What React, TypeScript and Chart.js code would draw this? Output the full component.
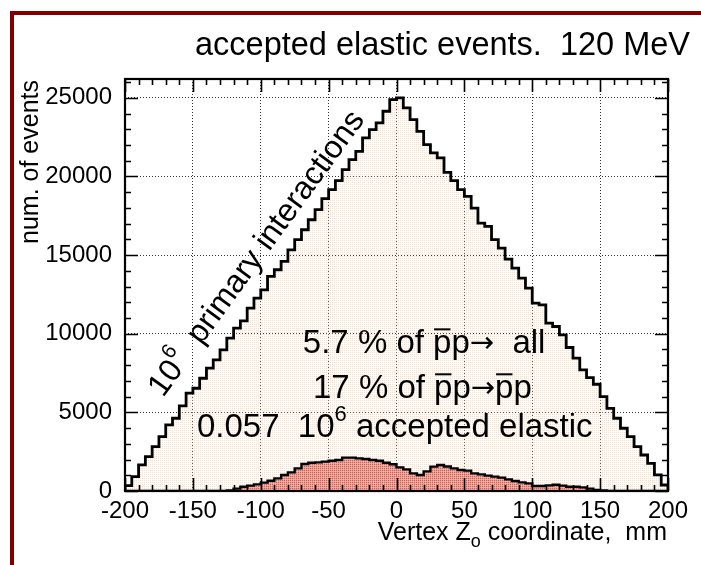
import { useEffect, useRef } from 'react';
import { Chart, registerables } from 'chart.js';

Chart.register(...registerables);

// ---------------- data ----------------
const X_MIN = -200;
const X_MAX = 200;
const BIN_WIDTH = 5; // mm
const Y_MAX = 26200;
const X_TICKS = [-200, -150, -100, -50, 0, 50, 100, 150, 200];
const Y_TICKS = [0, 5000, 10000, 15000, 20000, 25000];

// lower edges of the 80 bins (categories)
const BIN_LOW = Array.from({ length: (X_MAX - X_MIN) / BIN_WIDTH }, (_, i) => X_MIN + i * BIN_WIDTH);

// all primary interactions per 5 mm bin
const PRIMARY = [
  340, 912, 1655, 2185, 2820, 3460, 4200, 4625, 5410, 6220,
  6535, 7170, 7810, 8340, 8975, 9720, 10355, 10820, 11630, 12265,
  12795, 13645, 14070, 14600, 15340, 15980, 16615, 17250, 17890, 18590,
  19160, 19735, 20435, 21070, 21600, 22450, 22980, 23405, 24150, 24890,
  25000, 24360, 23620, 22870, 22030, 21500, 21180, 20265, 19735, 19160,
  18740, 17995, 17040, 16830, 15980, 15450, 14750, 14175, 13540, 12900,
  11950, 11840, 10675, 10460, 9930, 9125, 8445, 7700, 7215, 6790,
  6005, 5260, 4625, 3990, 3460, 2820, 2290, 1760, 1020, 380,
];

// accepted elastic events per 5 mm bin
const ACCEPTED = [
  0, 0, 0, 0, 0, 0, 0, 0, 0, 0,
  0, 0, 0, 0, 0, 40, 150, 275, 340, 424,
  530, 656, 805, 1017, 1187, 1440, 1716, 1800, 1822, 1865,
  1928, 1970, 2120, 2120, 2075, 2034, 1970, 1928, 1800, 1700,
  1504, 1377, 1123, 1017, 1250, 1550, 1653, 1560, 1440, 1335,
  1293, 1123, 1060, 975, 911, 848, 742, 636, 550, 487,
  318, 318, 360, 400, 340, 275, 275, 233, 148, 60,
  30, 0, 0, 0, 0, 0, 0, 0, 0, 0,
];

const TITLE = 'accepted elastic events.  120 MeV';
const Y_TITLE = 'num. of events';
const X_TITLE = ['Vertex Z', 'o', ' coordinate,  mm'];

// ---------------- helpers ----------------
const FONT = '"Liberation Sans", Arial, Helvetica, sans-serif';
const ARROW_FONT = '"DejaVu Sans", sans-serif';

type Run = { t: string; size?: number; dy?: number; over?: boolean; font?: string };

function drawRuns(ctx: CanvasRenderingContext2D, x: number, y: number, runs: Run[], base: number) {
  let cx = x;
  for (const r of runs) {
    const size = r.size ?? base;
    ctx.font = `${size}px ${r.font ?? FONT}`;
    ctx.fillText(r.t, cx, y + (r.dy ?? 0));
    const w = ctx.measureText(r.t).width;
    if (r.over) ctx.fillRect(cx + 1, y - base * 0.75, w - 2, 2);
    cx += w;
  }
  return cx;
}

function runsWidth(ctx: CanvasRenderingContext2D, runs: Run[], base: number) {
  let w = 0;
  for (const r of runs) {
    ctx.font = `${r.size ?? base}px ${r.font ?? FONT}`;
    w += ctx.measureText(r.t).width;
  }
  return w;
}

function makePattern(cells: string[][]) {
  const c = document.createElement('canvas');
  c.width = cells[0].length;
  c.height = cells.length;
  const g = c.getContext('2d')!;
  cells.forEach((row, j) => row.forEach((col, i) => {
    g.fillStyle = col;
    g.fillRect(i, j, 1, 1);
  }));
  return g.createPattern(c, 'repeat')!;
}

const histPoints = (vals: number[]) => [
  { x: BIN_LOW[0], y: 0 },
  ...BIN_LOW.map((x, i) => ({ x, y: vals[i] })),
  { x: X_MAX, y: vals[vals.length - 1] },
  { x: X_MAX, y: 0 },
];

function subdivide(major: number[], n: number, upTo: number) {
  const step = (major[1] - major[0]) / n;
  const out: { v: number; major: boolean }[] = [];
  for (let v = major[0]; v <= upTo + 1e-9; v += step) {
    out.push({ v, major: major.some((m) => Math.abs(m - v) < 1e-6) });
  }
  return out;
}

const ARROW: Run = { t: '\u2192', font: ARROW_FONT, size: 29, dy: -1 };

const rootPlugin = {
  id: 'rootStyle',
  beforeDraw(chart: any) {
    const { ctx, width, height } = chart;
    ctx.save();
    ctx.fillStyle = '#ffffff';
    ctx.fillRect(0, 0, width, height);
    ctx.fillStyle = '#7f0000';
    ctx.fillRect(10, 11, 4, height - 11);
    ctx.fillRect(10, 11, width - 10, 4);
    ctx.restore();
  },
  afterDatasetsDraw(chart: any) {
    const { ctx, chartArea, scales } = chart;
    const { left, right, top, bottom } = chartArea;
    const x = scales.x;
    const y = scales.y;
    ctx.save();
    ctx.strokeStyle = '#000';
    ctx.lineWidth = 1.6;
    ctx.beginPath();
    for (const t of subdivide(X_TICKS, 5, X_MAX)) {
      const px = Math.round(x.getPixelForValue(t.v)) + 0.5;
      const len = t.major ? 13 : 6;
      ctx.moveTo(px, bottom);
      ctx.lineTo(px, bottom - len);
      ctx.moveTo(px, top);
      ctx.lineTo(px, top + len);
    }
    for (const t of subdivide(Y_TICKS, 5, Y_MAX)) {
      const py = Math.round(y.getPixelForValue(t.v)) + 0.5;
      const len = t.major ? 13 : 6;
      ctx.moveTo(left, py);
      ctx.lineTo(left + len, py);
      ctx.moveTo(right, py);
      ctx.lineTo(right - len, py);
    }
    ctx.stroke();
    ctx.lineWidth = 2.2;
    ctx.strokeRect(left, top, right - left, bottom - top);

    // annotations
    ctx.fillStyle = '#000';
    ctx.textAlign = 'left';
    ctx.textBaseline = 'alphabetic';
    drawRuns(ctx, x.getPixelForValue(-69), y.getPixelForValue(8770),
      [{ t: '5.7 % of ' }, { t: 'p', over: true }, { t: 'p' }, ARROW, { t: '  all' }], 33);
    drawRuns(ctx, x.getPixelForValue(-61.5), y.getPixelForValue(5910),
      [{ t: '17 % of ' }, { t: 'p', over: true }, { t: 'p' }, ARROW, { t: 'p', over: true }, { t: 'p' }], 33);
    drawRuns(ctx, x.getPixelForValue(-147), y.getPixelForValue(3430),
      [{ t: '0.057  10' }, { t: '6', size: 22, dy: -16 }, { t: ' accepted elastic' }], 33);

    ctx.save();
    ctx.translate(x.getPixelForValue(-172), y.getPixelForValue(5900));
    ctx.rotate(-54 * Math.PI / 180);
    drawRuns(ctx, 0, 0, [{ t: '10' }, { t: '6', size: 21, dy: -16 }, { t: '  primary interactions' }], 32);
    ctx.restore();
    ctx.restore();
  },
  afterDraw(chart: any) {
    const { ctx, chartArea } = chart;
    const { right, top, bottom } = chartArea;
    ctx.save();
    ctx.fillStyle = '#000';
    ctx.textBaseline = 'alphabetic';
    // title
    ctx.font = `32.5px ${FONT}`;
    ctx.textAlign = 'right';
    ctx.fillText(TITLE, right + 22, top - 24);
    // x title
    ctx.textAlign = 'left';
    const runs: Run[] = [{ t: X_TITLE[0] }, { t: X_TITLE[1], size: 18, dy: 7 }, { t: X_TITLE[2] }];
    const w = runsWidth(ctx, runs, 25);
    drawRuns(ctx, right - 1 - w, bottom + 49, runs, 25);
    // y title
    ctx.save();
    ctx.translate(38, top + 1);
    ctx.rotate(-Math.PI / 2);
    ctx.font = `25px ${FONT}`;
    ctx.textAlign = 'right';
    ctx.fillText(Y_TITLE, 0, 0);
    ctx.restore();
    ctx.restore();
  },
};

export default function App() {
  const ref = useRef<HTMLCanvasElement>(null);
  useEffect(() => {
    const canvas = ref.current!;
    const beige = makePattern([
      ['rgba(232,185,130,0.42)', 'rgba(245,222,195,0.18)'],
      ['rgba(245,222,195,0.18)', 'rgba(255,255,255,0)'],
    ]);
    const red = makePattern([
      ['rgba(205,80,70,0.9)', 'rgba(232,145,132,0.88)'],
      ['rgba(232,145,132,0.88)', 'rgba(238,165,155,0.8)'],
    ]);
    const gridOpts = { color: 'rgba(0,0,0,0.8)', lineWidth: 1, drawTicks: false };
    const tickFont = { family: FONT, size: 24 };
    const chart = new Chart(canvas, {
      type: 'line',
      data: {
        datasets: [
          {
            label: 'accepted elastic',
            data: histPoints(ACCEPTED),
            stepped: true,
            borderColor: '#000',
            borderWidth: 2.4,
            backgroundColor: red,
            fill: 'origin',
            pointRadius: 0,
            order: 1,
          },
          {
            label: 'primary interactions',
            data: histPoints(PRIMARY),
            stepped: true,
            borderColor: '#000',
            borderWidth: 2.8,
            backgroundColor: beige,
            fill: 'origin',
            pointRadius: 0,
            order: 2,
          },
        ] as any,
      },
      options: {
        animation: false,
        responsive: false,
        events: [],
        layout: { padding: { top: 79, right: 33, left: 0, bottom: 0 } },
        plugins: {
          legend: { display: false },
          tooltip: { enabled: false },
          title: { display: false },
        },
        scales: {
          x: {
            type: 'linear',
            min: X_MIN,
            max: X_MAX,
            afterBuildTicks: (s: any) => { s.ticks = X_TICKS.map((v) => ({ value: v })); },
            afterFit: (s: any) => { s.height = 74; },
            grid: gridOpts,
            border: { display: false, dash: [1, 2] },
            ticks: { font: tickFont, color: '#000', padding: 6, maxRotation: 0, autoSkip: false, callback: (v: any) => String(v) },
          },
          y: {
            type: 'linear',
            min: 0,
            max: Y_MAX,
            afterBuildTicks: (s: any) => { s.ticks = Y_TICKS.map((v) => ({ value: v })); },
            afterFit: (s: any) => { s.width = 125; },
            grid: gridOpts,
            border: { display: false, dash: [1, 2] },
            ticks: { font: tickFont, color: '#000', padding: 13, autoSkip: false, callback: (v: any) => String(v) },
          },
        },
      } as any,
      plugins: [rootPlugin],
    });
    return () => chart.destroy();
  }, []);
  return (
    <div style={{ position: 'absolute', left: 0, top: 0, width: 701, height: 565 }}>
      <canvas ref={ref} width={701} height={565} style={{ width: 701, height: 565, display: 'block' }} />
    </div>
  );
}
